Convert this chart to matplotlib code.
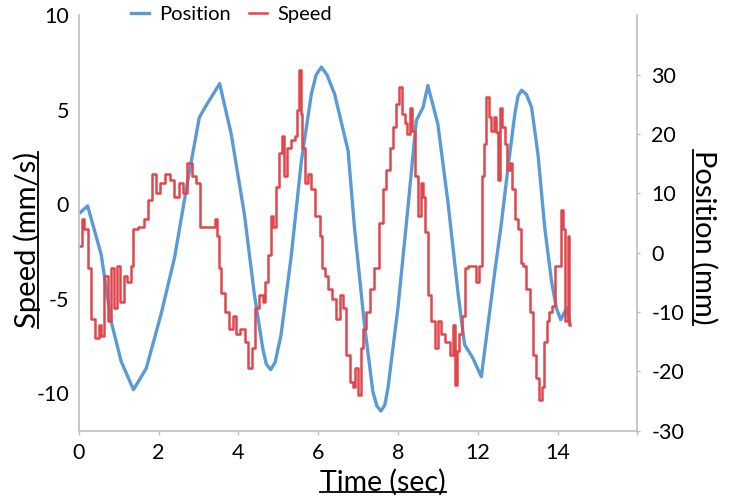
import matplotlib.pyplot as plt
from matplotlib.lines import Line2D

plt.rcParams['font.family'] = ['Lato', 'DejaVu Sans']
plt.rcParams['axes.unicode_minus'] = False

# position trace (right axis, mm)
pos_t = [0.04, 0.22, 0.56, 0.81, 1.06, 1.37, 1.69, 2.06, 2.40, 2.73, 3.02, 3.19, 3.53,
         3.82, 4.15, 4.40, 4.61, 4.70, 4.81, 4.92, 5.07, 5.32, 5.58, 5.83, 5.95, 6.08,
         6.22, 6.41, 6.75, 6.91, 7.16, 7.37, 7.47, 7.57, 7.67, 7.75, 8.00, 8.25, 8.46,
         8.63, 8.75, 9.00, 9.25, 9.51, 9.67, 9.88, 10.09, 10.43, 10.59, 10.76, 10.93,
         11.01, 11.10, 11.22, 11.35, 11.51, 11.68, 11.85, 11.97, 12.08, 12.23, 12.31]
pos_v = [6.8, 7.9, -0.3, -11.6, -18.3, -23.1, -19.5, -10.4, -0.8, 12.1, 22.8, 24.8, 28.5,
         20.0, 6.5, -7.0, -16.1, -18.8, -19.7, -18.5, -13.8, -0.8, 15.5, 26.8, 30.0, 31.3,
         30.0, 26.8, 17.2, 4.2, -12.1, -23.4, -25.8, -26.7, -25.7, -22.8, -9.3, 7.6, 22.3,
         24.5, 28.2, 21.7, 8.7, -7.0, -15.5, -17.8, -20.9, -3.1, 4.8, 14.4, 23.4,
         26.4, 27.4, 26.7, 24.5, 16.6, 4.2, -4.8, -9.3, -11.3, -9.3, -11.8]

# speed trace (left axis, mm/s)
spd_t = [0.04, 0.10, 0.18, 0.26, 0.35, 0.46, 0.54, 0.58, 0.68, 0.77, 0.85, 0.93, 0.97,
         1.10, 1.14, 1.27, 1.35, 1.39, 1.56, 1.69, 1.77, 1.89, 1.98, 2.10, 2.23, 2.35,
         2.44, 2.56, 2.65, 2.77, 2.90, 2.98, 3.07, 3.23, 3.40, 3.44, 3.50, 3.53, 3.61,
         3.73, 3.82, 3.90, 3.98, 4.11, 4.20, 4.30, 4.36, 4.45, 4.57, 4.65, 4.70, 4.78,
         4.86, 4.90, 4.99, 5.07, 5.11, 5.20, 5.26, 5.37, 5.45, 5.49, 5.53, 5.59, 5.62,
         5.70, 5.78, 5.87, 5.99, 6.08, 6.12, 6.20, 6.29, 6.41, 6.50, 6.58, 6.66, 6.75,
         6.83, 6.91, 6.96, 7.04, 7.10, 7.16, 7.25, 7.33, 7.46, 7.57, 7.67, 7.75, 7.83,
         7.92, 8.00, 8.07, 8.13, 8.21, 8.25, 8.34, 8.38, 8.46, 8.55, 8.61, 8.67, 8.71,
         8.80, 8.88, 8.96, 9.05, 9.13, 9.25, 9.34, 9.40, 9.45, 9.51, 9.57, 9.63, 9.72,
         9.80, 9.92, 9.99, 10.08, 10.11, 10.18, 10.24, 10.30, 10.38, 10.43, 10.51, 10.53,
         10.58, 10.63, 10.72, 10.76, 10.85, 10.89, 10.97, 11.05, 11.10, 11.18, 11.26,
         11.35, 11.43, 11.50, 11.58, 11.64, 11.70, 11.75, 11.81, 11.89, 11.97, 12.06,
         12.11, 12.17, 12.23, 12.28, 12.31]
spd_v = [-2.2, -0.8, -1.3, -3.4, -6.1, -7.1, -6.4, -7.0, -3.8, -6.2, -3.4, -5.5, -3.3,
         -5.2, -3.8, -4.1, -3.3, -1.3, -1.2, -0.8, 0.2, 1.6, 0.6, 1.1, 1.6, 1.3,
         0.4, 1.1, 0.6, 2.2, 1.5, 1.1, -1.2, -1.2, -1.2, -0.8, -1.7, -3.4, -4.7,
         -5.7, -6.6, -5.9, -6.9, -6.6, -7.3, -8.7, -7.6, -5.5, -4.8, -5.2, -4.1, -2.7,
         -0.6, -1.2, 0.9, 2.7, 3.6, 1.5, 3.0, 3.4, 3.6, 5.0, 7.1, 4.8, 3.0,
         1.1, 1.6, 0.8, -0.6, -1.7, -3.4, -3.8, -4.5, -5.0, -6.1, -4.8, -5.5, -8.0,
         -9.4, -9.7, -8.7, -10.1, -7.6, -6.6, -5.7, -4.5, -3.4, -1.0, 0.8, 1.8, 3.0,
         4.1, 5.3, 6.2, 4.8, 4.3, 3.7, 5.1, 3.9, 1.5, -0.6, 1.1, 0.4, -1.5,
         -4.8, -6.2, -7.6, -6.2, -6.9, -7.3, -8.0, -6.4, -9.6, -7.8, -6.9, -5.9, -3.4,
         -3.3, -3.3, -4.1, -3.3, 1.5, 3.2, 5.7, 4.6, 3.9, 4.6, 3.8, 1.3,
         5.1, 4.1, 3.2, 1.8, 2.2, 0.8, -0.8, -1.3, -3.1, -3.3, -4.5,
         -5.7, -8.0, -9.2, -10.4, -9.7, -7.3, -6.2, -5.7, -5.4, -3.3, -3.3,
         -0.3, -1.3, -6.2, -1.7, -6.4]

x_ticks = [0, 2, 4, 6, 8, 10, 12, 14]
x_labels = ['0', '2', '4', '6', '8', '12', '14', '']
speed_ticks = [-10, -5, 0, 5, 10]
pos_ticks = [-30, -20, -10, 0, 10, 20, 30]

blue = '#5B9BD5'
red = '#E0474C'
grey = '#BFBFBF'

fig = plt.figure(figsize=(7.30, 4.99), dpi=100)
ax = fig.add_axes([0.108, 0.137, 0.765, 0.832])
ax2 = ax.twinx()

l1, = ax2.plot(pos_t, pos_v, color=blue, lw=2.4, label='Position')
l2, = ax.plot(spd_t, spd_v, color=red, lw=1.8, drawstyle='steps-mid', label='Speed')
ax.set_zorder(ax2.get_zorder() + 1)
ax.patch.set_visible(False)

ax.set_xlim(0, 14)
ax.set_ylim(-12, 10)
ax2.set_ylim(-30, 40)
ax.set_xticks(x_ticks)
ax.set_xticklabels(x_labels)
ax.set_yticks(speed_ticks)
ax2.set_yticks(pos_ticks)

for a in (ax, ax2):
    a.spines['top'].set_visible(False)
    for s in ('left', 'right', 'bottom'):
        a.spines[s].set_color(grey)
        a.spines[s].set_linewidth(1.2)
    a.tick_params(colors=grey, labelcolor='black', labelsize=15.5, length=3, width=1)
ax.spines['right'].set_visible(False)
ax2.spines['left'].set_visible(False)
ax2.spines['bottom'].set_visible(False)
ax.tick_params(axis='y', length=0, pad=7)
ax.tick_params(axis='x', pad=6)
ax2.tick_params(axis='y', length=2, pad=8)

xl = ax.set_xlabel('Time (sec)', fontsize=20.5, labelpad=4)
yl = ax.set_ylabel('Speed (mm/s)', fontsize=21, labelpad=-3)
yr = ax2.set_ylabel('Position (mm)', fontsize=21, rotation=270, labelpad=24)
ax.xaxis.label.set_x(0.545)
ax.yaxis.label.set_y(0.46)
ax2.yaxis.label.set_y(0.465)

fig.legend(handles=[l1, l2], loc='upper center', bbox_to_anchor=(0.317, 1.025), ncol=2,
           frameon=False, fontsize=14.5, handlelength=0.9, handletextpad=0.5,
           columnspacing=0.9)

# underline the axis titles
fig.canvas.draw()
inv = fig.transFigure.inverted()
bb = xl.get_window_extent().transformed(inv)
fig.add_artist(Line2D([bb.x0, bb.x1], [bb.y0 + 0.008] * 2, color='black', lw=1.3))
bb = yl.get_window_extent().transformed(inv)
fig.add_artist(Line2D([bb.x1 - 0.004] * 2, [bb.y0, bb.y1], color='black', lw=1.3))
bb = yr.get_window_extent().transformed(inv)
fig.add_artist(Line2D([bb.x0 + 0.004] * 2, [bb.y0, bb.y1], color='black', lw=1.3))

fig.savefig('out.png', dpi=100)
